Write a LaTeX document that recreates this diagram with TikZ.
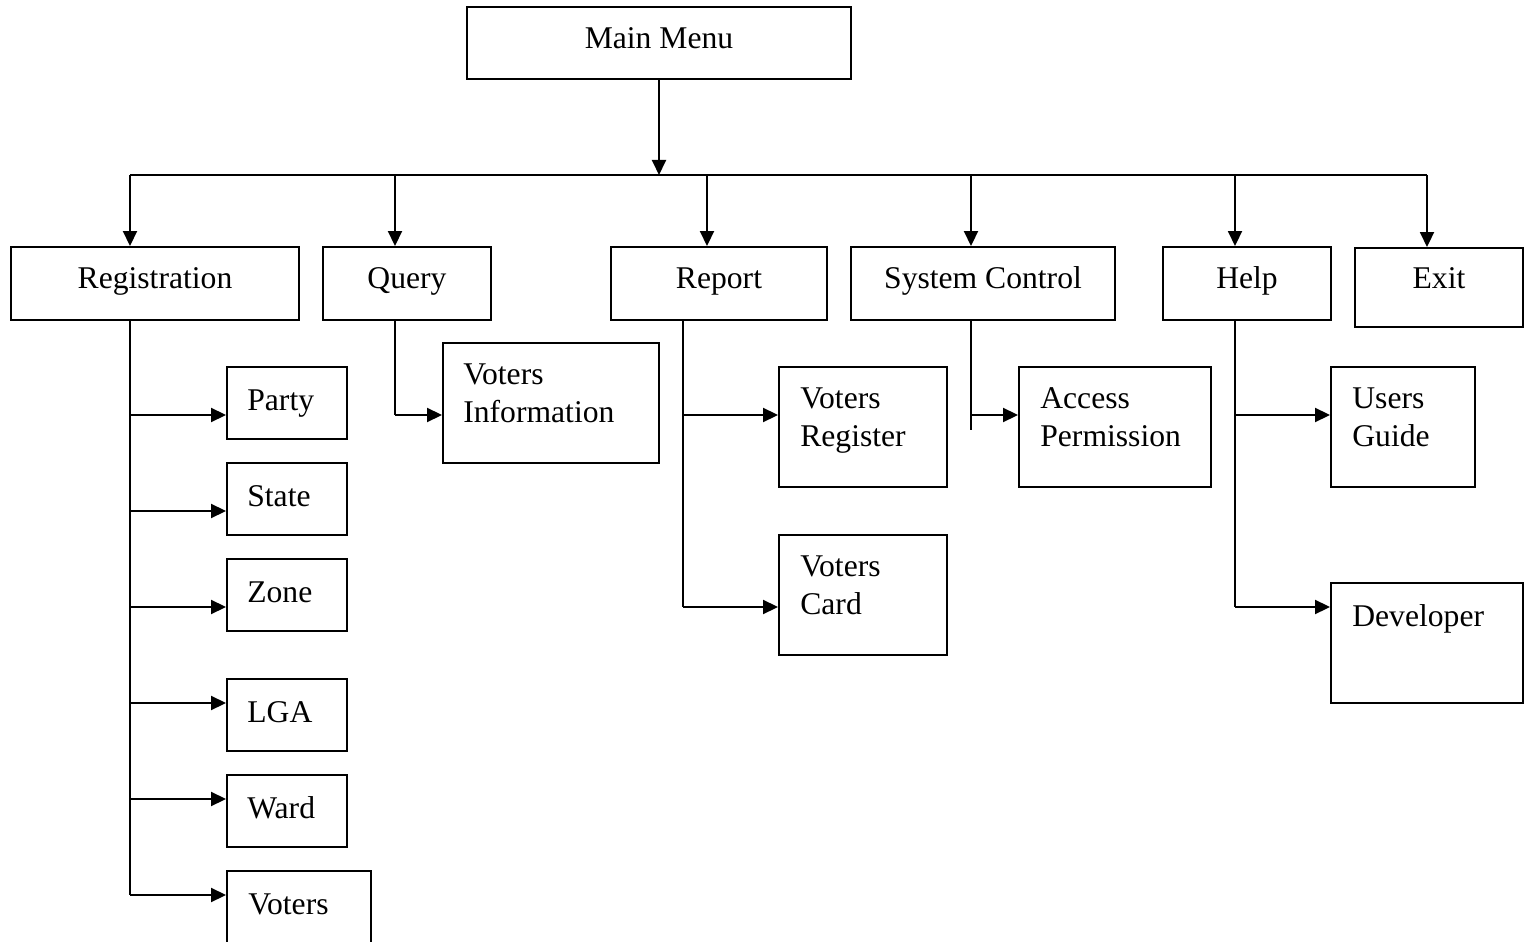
\documentclass[tikz,border=0pt]{standalone}
\usepackage{fontspec}
\setmainfont{Liberation Serif}
\usetikzlibrary{arrows.meta,fit}
\begin{document}
\begin{tikzpicture}[x=0.02cm,y=-0.02cm,
  box/.style={draw,line width=1.1pt,inner sep=0pt},
  txt/.style={font=\fontsize{18}{21.6}\selectfont,inner sep=0pt},
  ltxt/.style={txt,align=left,anchor=north west},
  ln/.style={line width=1.1pt},
  arr/.style={ln,-{Triangle[length=0.3cm,width=0.28cm]}}]
\clip (0,0) rectangle (1531,942);
\fill[white] (0,0) rectangle (1531,942);
% boxes
\node[box,fit={(467,7) (851,79)}] (main) {};
\node[box,fit={(11,247) (299,320)}] (reg) {};
\node[box,fit={(323,247) (491,320)}] (query) {};
\node[box,fit={(611,247) (827,320)}] (report) {};
\node[box,fit={(851,247) (1115,320)}] (sysc) {};
\node[box,fit={(1163,247) (1331,320)}] (help) {};
\node[box,fit={(1355,248) (1523,327)}] (exit) {};
\node[box,fit={(227,367) (347,439)}] (party) {};
\node[box,fit={(227,463) (347,535)}] (state) {};
\node[box,fit={(227,559) (347,631)}] (zone) {};
\node[box,fit={(227,679) (347,751)}] (lga) {};
\node[box,fit={(227,775) (347,847)}] (ward) {};
\node[box,fit={(227,871) (371,960)}] (voters) {};
\node[box,fit={(443,343) (659,463)}] (vinfo) {};
\node[box,fit={(779,367) (947,487)}] (vreg) {};
\node[box,fit={(779,535) (947,655)}] (vcard) {};
\node[box,fit={(1019,367) (1211,487)}] (access) {};
\node[box,fit={(1331,367) (1475,487)}] (users) {};
\node[box,fit={(1331,583) (1523,703)}] (dev) {};
% texts
\node[txt,anchor=base] at (659,49) {Main Menu};
\node[txt,anchor=base] at (155,289) {Registration};
\node[txt,anchor=base] at (407,289) {Query};
\node[txt,anchor=base] at (719,289) {Report};
\node[txt,anchor=base] at (983,289) {System Control};
\node[txt,anchor=base] at (1247,289) {Help};
\node[txt,anchor=base] at (1439,289) {Exit};
\node[txt,anchor=base west] at (247,410) {Party};
\node[txt,anchor=base west] at (247,506) {State};
\node[txt,anchor=base west] at (247,602) {Zone};
\node[txt,anchor=base west] at (247,722) {LGA};
\node[txt,anchor=base west] at (247,818) {Ward};
\node[txt,anchor=base west] at (248,914) {Voters};
\node[ltxt] at (463,363) {Voters\\Information};
\node[ltxt] at (800,387) {Voters\\Register};
\node[ltxt] at (800,555) {Voters\\Card};
\node[ltxt] at (1040,387) {Access\\Permission};
\node[ltxt] at (1352,387) {Users\\Guide};
\node[txt,anchor=base west] at (1352,626) {Developer};
% bus
\coordinate (busL) at (130,175);
\coordinate (busR) at (1427,175);
\coordinate (d2) at (395,175);
\coordinate (d3) at (707,175);
\coordinate (d4) at (971,175);
\coordinate (d5) at (1235,175);
\draw[arr] (main.south) -- (main.south |- busL);
\draw[ln] (busL) -- (busR);
\draw[arr] (busL) -- (busL |- reg.north);
\draw[arr] (d2) -- (d2 |- query.north);
\draw[arr] (d3) -- (d3 |- report.north);
\draw[arr] (d4) -- (d4 |- sysc.north);
\draw[arr] (d5) -- (d5 |- help.north);
\draw[arr] (busR) -- (busR |- exit.north);
% registration children
\coordinate (rs) at (130,320);
\draw[ln] (rs) -- (130,895);
\draw[arr] (130,415) -- (party.west |- 0,415);
\draw[arr] (130,511) -- (state.west |- 0,511);
\draw[arr] (130,607) -- (zone.west |- 0,607);
\draw[arr] (130,703) -- (lga.west |- 0,703);
\draw[arr] (130,799) -- (ward.west |- 0,799);
\draw[arr] (130,895) -- (voters.west |- 0,895);
% query
\draw[ln] (395,320) -- (395,415);
\draw[arr] (395,415) -- (vinfo.west |- 0,415);
% report
\draw[ln] (683,320) -- (683,607);
\draw[arr] (683,415) -- (vreg.west |- 0,415);
\draw[arr] (683,607) -- (vcard.west |- 0,607);
% system control
\draw[ln] (971,320) -- (971,430);
\draw[arr] (971,415) -- (access.west |- 0,415);
% help
\draw[ln] (1235,320) -- (1235,607);
\draw[arr] (1235,415) -- (users.west |- 0,415);
\draw[arr] (1235,607) -- (dev.west |- 0,607);
\end{tikzpicture}
\end{document}
